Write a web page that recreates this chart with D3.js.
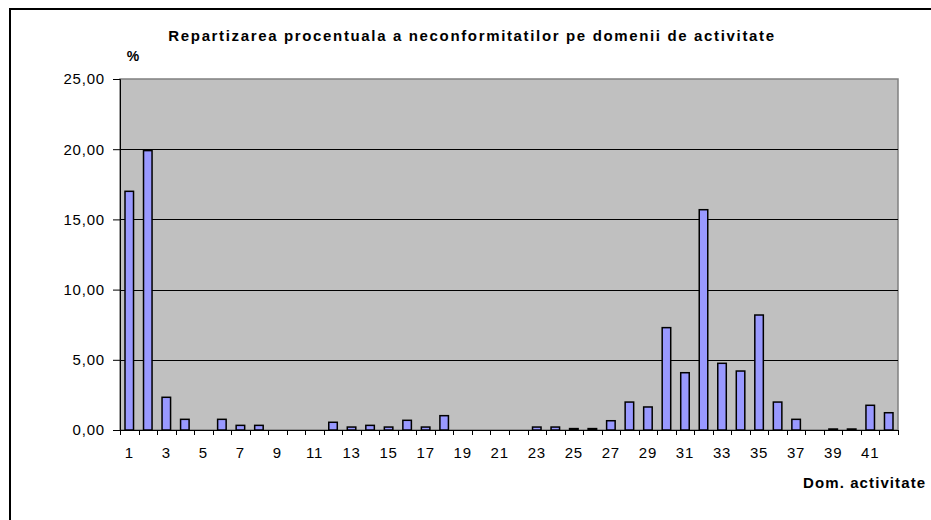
<!DOCTYPE html>
<html>
<head>
<meta charset="utf-8">
<script src="https://cdn.jsdelivr.net/npm/d3@7"></script>
<style>
  html, body { margin: 0; padding: 0; background: #fff; }
  svg { display: block; }
  text { font-family: Arial, "Liberation Sans", sans-serif; fill: #000; }
</style>
</head>
<body>
<svg id="chart" width="931" height="520"></svg>
<script>
const categories = d3.range(1, 43).map(String);
const values = [
  17.00, 19.90, 2.33, 0.76, 0.00, 0.76, 0.33, 0.33, 0.00, 0.00,
  0.00, 0.55, 0.21, 0.33, 0.21, 0.69, 0.21, 1.02, 0.00, 0.00,
  0.00, 0.00, 0.21, 0.21, 0.10, 0.10, 0.66, 1.99, 1.64, 7.29,
  4.08, 15.69, 4.75, 4.20, 8.19, 1.99, 0.76, 0.00, 0.07, 0.07,
  1.76, 1.23
];
const yTicks = [0, 5, 10, 15, 20, 25];
const xTickLabels = categories.filter((d, i) => i % 2 === 0);
const title = "Repartizarea procentuala a neconformitatilor pe domenii de activitate";
const yTitle = "%";
const xTitle = "Dom. activitate";

const svg = d3.select("#chart");
const plot = { left: 120, top: 79, right: 898, bottom: 430 };

// outer chart border (left and top visible)
svg.append("path")
  .attr("d", `M10,520 L10,9 L931,9`)
  .attr("fill", "none").attr("stroke", "#000").attr("stroke-width", 2);

const xb = d3.scaleBand().domain(categories).range([plot.left, plot.right]);
const y = d3.scaleLinear().domain([0, 25]).range([plot.bottom, plot.top]);

// plot area
svg.append("rect")
  .attr("x", plot.left).attr("y", plot.top)
  .attr("width", plot.right - plot.left).attr("height", plot.bottom - plot.top)
  .attr("fill", "#C0C0C0").attr("stroke", "#808080").attr("stroke-width", 1.5);

// gridlines
svg.append("g").selectAll("line").data(yTicks.filter(d => d > 0 && d < 25)).join("line")
  .attr("x1", plot.left).attr("x2", plot.right)
  .attr("y1", d => Math.round(y(d)) + 0.5).attr("y2", d => Math.round(y(d)) + 0.5)
  .attr("stroke", "#000").attr("stroke-width", 1);

// bars
svg.append("g").selectAll("rect").data(values).join("rect")
  .attr("x", (d, i) => xb(categories[i]) + xb.bandwidth() * 0.27)
  .attr("width", xb.bandwidth() * 0.46)
  .attr("y", d => y(d))
  .attr("height", d => Math.max(0, y(0) - y(d)))
  .attr("fill", "#9999FF").attr("stroke", "#000").attr("stroke-width", 1.5)
  .style("display", d => d > 0 ? null : "none");

// y axis
const yAxis = d3.axisLeft(y).tickValues(yTicks).tickSize(7).tickPadding(8)
  .tickFormat(d => d3.format(".2f")(d).replace(".", ","));
const gy = svg.append("g").attr("transform", `translate(${plot.left},0)`).call(yAxis);
gy.select(".domain").attr("stroke", "#000");
gy.selectAll(".tick line").attr("stroke", "#000");
gy.selectAll("text").style("font-size", "15px").style("letter-spacing", "0.8px").attr("fill", "#000");

// x axis
const gx = svg.append("g").attr("transform", `translate(0,${plot.bottom})`);
gx.append("line").attr("x1", plot.left).attr("x2", plot.right).attr("y1", 0.5).attr("y2", 0.5).attr("stroke", "#000");
const boundaries = categories.map(c => xb(c)).concat([plot.right]);
gx.selectAll("line.tk").data(boundaries).join("line").attr("class", "tk")
  .attr("x1", d => Math.round(d) + 0.5).attr("x2", d => Math.round(d) + 0.5)
  .attr("y1", 0).attr("y2", 5).attr("stroke", "#000");
gx.selectAll("text").data(xTickLabels).join("text")
  .attr("x", d => xb(d) + xb.bandwidth() / 2)
  .attr("y", 28)
  .attr("text-anchor", "middle")
  .style("font-size", "15px").style("letter-spacing", "0.8px")
  .text(d => d);

// titles
svg.append("text").attr("x", 472).attr("y", 41).attr("text-anchor", "middle")
  .style("font-size", "15px").style("font-weight", "bold").style("letter-spacing", "1.65px").text(title);
svg.append("text").attr("x", 133).attr("y", 61).attr("text-anchor", "middle")
  .style("font-size", "14px").style("font-weight", "bold").text(yTitle);
svg.append("text").attr("x", 803).attr("y", 488).attr("text-anchor", "start")
  .style("font-size", "15px").style("font-weight", "bold").style("letter-spacing", "1.1px").text(xTitle);
</script>
</body>
</html>
